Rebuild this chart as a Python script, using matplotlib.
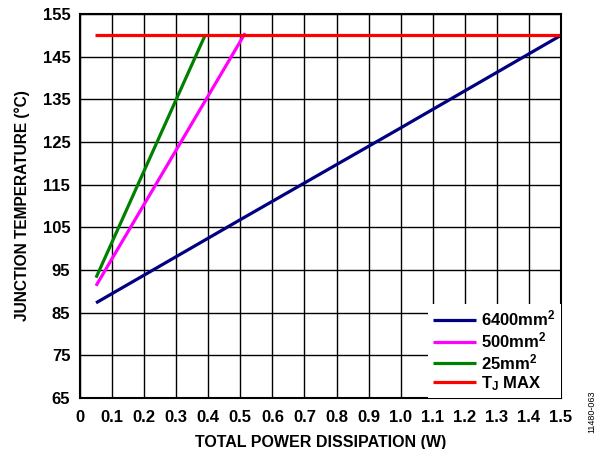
import matplotlib
matplotlib.use('Agg')
import matplotlib.pyplot as plt
import numpy as np

plt.rcParams['font.family'] = ['Liberation Sans', 'DejaVu Sans']
plt.rcParams['font.weight'] = 'bold'
plt.rcParams['mathtext.fontset'] = 'custom'
plt.rcParams['mathtext.rm'] = 'Liberation Sans:bold'
plt.rcParams['mathtext.bf'] = 'Liberation Sans:bold'
plt.rcParams['mathtext.it'] = 'Liberation Sans:bold'

# data
x_6400 = [0.05, 0.5, 1.0, 1.5]
y_6400 = [87.3, 106.8, 128.3, 150.0]
x_500 = [0.05, 0.515]
y_500 = [91.3, 150.5]
x_25 = [0.05, 0.39]
y_25 = [93.2, 150.0]
x_tj = [0.047, 1.5]
y_tj = [150.0, 150.0]

labels = [r'6400mm$^{\mathrm{2}}$', r'500mm$^{\mathrm{2}}$', r'25mm$^{\mathrm{2}}$', r'T$_{\mathrm{J}}$ MAX']
colors = ['#000080', '#FF00FF', '#008000', '#FF0000']

xticks = np.round(np.arange(0, 1.51, 0.1), 1)
xticklabels = ['0'] + ['%.1f' % v for v in xticks[1:]]
yticks = list(range(65, 156, 10))

fig = plt.figure(figsize=(6.02, 4.49), dpi=100)
ax = fig.add_axes([80 / 602, 1 - 398 / 449, 481 / 602, 384 / 449])

lw = 2.3
ax.plot(x_6400, y_6400, color=colors[0], lw=lw, label=labels[0], solid_capstyle='butt')
ax.plot(x_500, y_500, color=colors[1], lw=lw, label=labels[1], solid_capstyle='butt')
ax.plot(x_25, y_25, color=colors[2], lw=lw, label=labels[2], solid_capstyle='butt')
ax.plot(x_tj, y_tj, color=colors[3], lw=lw, label=labels[3], solid_capstyle='butt')

ax.set_xlim(0, 1.5)
ax.set_ylim(65, 155)
ax.set_xticks(xticks)
ax.set_xticklabels(xticklabels)
ax.set_yticks(yticks)
ax.tick_params(axis='x', length=0, labelsize=12, pad=9)
ax.tick_params(axis='y', length=0, labelsize=12, pad=7)
for t in ax.get_xticklabels() + ax.get_yticklabels():
    t.set_fontweight('bold')
ax.grid(True, color='black', lw=1.0)
ax.set_axisbelow(True)
for s in ax.spines.values():
    s.set_linewidth(1.5)
    s.set_color('black')

ax.set_xlabel('TOTAL POWER DISSIPATION (W)', fontsize=11.5, fontweight='bold', labelpad=7)
ax.set_ylabel('JUNCTION TEMPERATURE (°C)', fontsize=11.2, fontweight='bold', labelpad=9)

leg = ax.legend(loc='lower right', frameon=True, fontsize=12, handlelength=2.6,
                borderaxespad=0.0, handletextpad=0.3, labelspacing=0.12,
                borderpad=0.3, fancybox=False)
leg.get_frame().set_edgecolor('white')
leg.get_frame().set_facecolor('white')
leg.get_frame().set_alpha(1.0)
leg.get_frame().set_linewidth(0)
for t in leg.get_texts():
    t.set_fontweight('bold')

fig.text(592 / 602, 1 - 412 / 449, '11480-063', rotation=90, fontsize=6.5,
         fontweight='normal', ha='center', va='center')

fig.savefig('out.png', dpi=100)
